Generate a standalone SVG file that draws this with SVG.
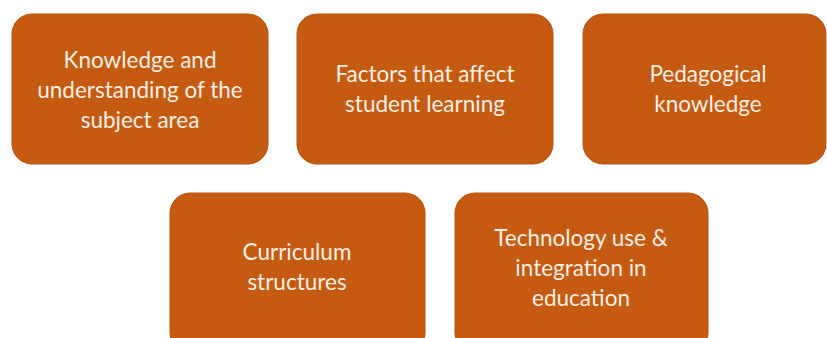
<svg xmlns="http://www.w3.org/2000/svg" width="827" height="338" viewBox="0 0 827 338">
<style>
.box{fill:#C55A11;stroke:#B9520F;stroke-width:1}
.t{font-family:Lato,"Open Sans","Liberation Sans",sans-serif;font-size:22.5px;fill:#FBEFE6;text-anchor:middle}
</style>
<rect width="827" height="338" fill="#ffffff"/>
<g id="n1"><rect class="box" x="12" y="14" width="256" height="150" rx="20"/>
<text class="t" x="140" y="68">Knowledge and</text><text class="t" x="140" y="98">understanding of the</text><text class="t" x="140" y="128">subject area</text></g>
<g id="n2"><rect class="box" x="297" y="14" width="256" height="150" rx="20"/>
<text class="t" x="425" y="82">Factors that affect</text><text class="t" x="425" y="112">student learning</text></g>
<g id="n3"><rect class="box" x="583" y="14" width="243" height="150" rx="20"/>
<text class="t" x="708" y="82">Pedagogical</text><text class="t" x="708" y="112">knowledge</text></g>
<g id="n4"><rect class="box" x="170" y="193" width="255" height="160" rx="20"/>
<text class="t" x="297" y="260">Curriculum</text><text class="t" x="297" y="290">structures</text></g>
<g id="n5"><rect class="box" x="455" y="193" width="253" height="160" rx="20"/>
<text class="t" x="581" y="246">Technology use &amp;</text><text class="t" x="581" y="276">integration in</text><text class="t" x="581" y="306">education</text></g>
<g id="connectors"></g>
</svg>
